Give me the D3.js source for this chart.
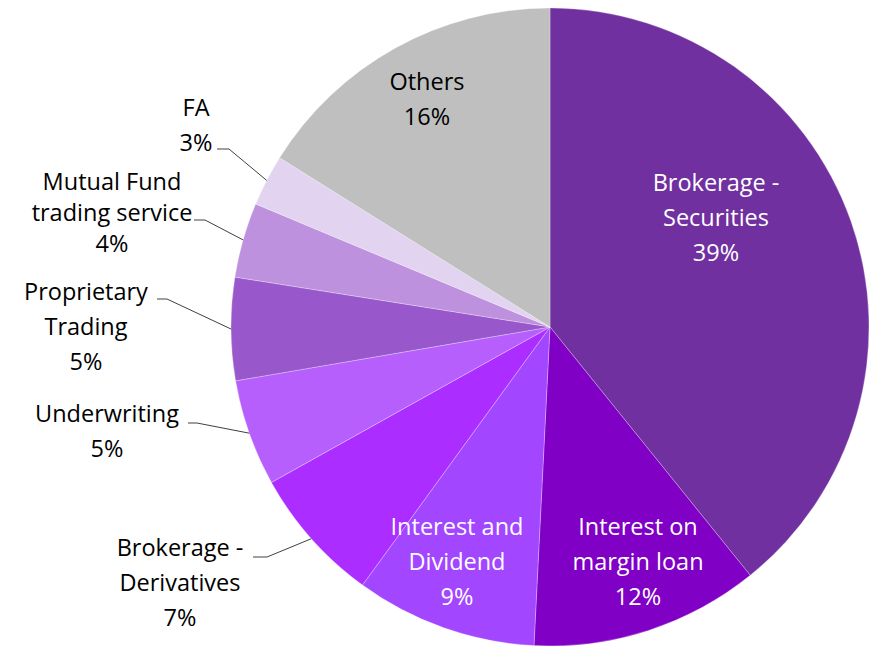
<!DOCTYPE html>
<html><head><meta charset="utf-8">
<script src="https://cdn.jsdelivr.net/npm/d3@7/dist/d3.min.js"></script>
<style>body{margin:0;background:#fff}svg{display:block}text{font-family:"Open Sans",Lato,sans-serif;font-variant-ligatures:none}</style>
</head><body><svg id="c" width="878" height="646"></svg>
<script>
const categories = ["Brokerage - Securities","Interest on margin loan","Interest and Dividend","Brokerage - Derivatives","Underwriting","Proprietary Trading","Mutual Fund trading service","FA","Others"];
const values = [39.2,11.6,9.2,6.9,5.4,5.2,3.8,2.6,16.1];
const colors = ["#7030A0","#8000C6","#A346FF","#AC2DFF","#B65FFD","#9957CC","#BD91DD","#E2D3F1","#BFBFBF"];
const labelLines = [["Brokerage -","Securities"],["Interest on","margin loan"],["Interest and","Dividend"],["Brokerage -","Derivatives"],["Underwriting"],["Proprietary","Trading"],["Mutual Fund","trading service"],["FA"],["Others"]];

const svg = d3.select("#c");
const cx = 550, cy = 327, R = 319;
const g = svg.append("g").attr("transform", `translate(${cx},${cy})`);
const pie = d3.pie().sort(null).value(d => d)(values);
const arc = d3.arc().innerRadius(0).outerRadius(R);
g.selectAll("path").data(pie).join("path")
  .attr("d", arc).attr("fill", (d,i) => colors[i])
  .attr("stroke", "rgba(255,255,255,0.35)").attr("stroke-width", 0.8);

// label layout (positions relative to svg)
const layout = [
  {x:716, y:183, fill:"#fff", lh:35},
  {x:638, y:527, fill:"#fff", lh:35},
  {x:457, y:527, fill:"#fff", lh:35},
  {x:180, y:548, fill:"#000", lh:35, line:[[253,557],[267,557]]},
  {x:107, y:414, fill:"#000", lh:35, line:[[188,423],[197,423]]},
  {x:86, y:292, fill:"#000", lh:35, line:[[157,299],[167,299]]},
  {x:112, y:182, fill:"#000", lh:31, line:[[194,220],[205,220]]},
  {x:196, y:108, fill:"#000", lh:35, line:[[217,149],[229,149]]},
  {x:427, y:82, fill:"#000", lh:35}
];
pie.forEach((d,i) => {
  const L = layout[i];
  const lines = labelLines[i].concat([Math.round(values[i]) + "%"]);
  const t = svg.append("text").attr("text-anchor","middle").attr("fill",L.fill)
    .attr("font-size",23.5);
  lines.forEach((s,k) => t.append("tspan").attr("x",L.x).attr("y",L.y + k*L.lh).attr("dy","0.35em").text(s));
  if (L.line) {
    const mid = (d.startAngle + d.endAngle)/2;
    const ex = cx + Math.sin(mid)*R, ey = cy - Math.cos(mid)*R;
    svg.append("polyline").attr("points", [L.line[0], L.line[1], [ex,ey]].map(p=>p.join(",")).join(" "))
      .attr("fill","none").attr("stroke","#404040").attr("stroke-width",1);
  }
});
</script></body></html>
